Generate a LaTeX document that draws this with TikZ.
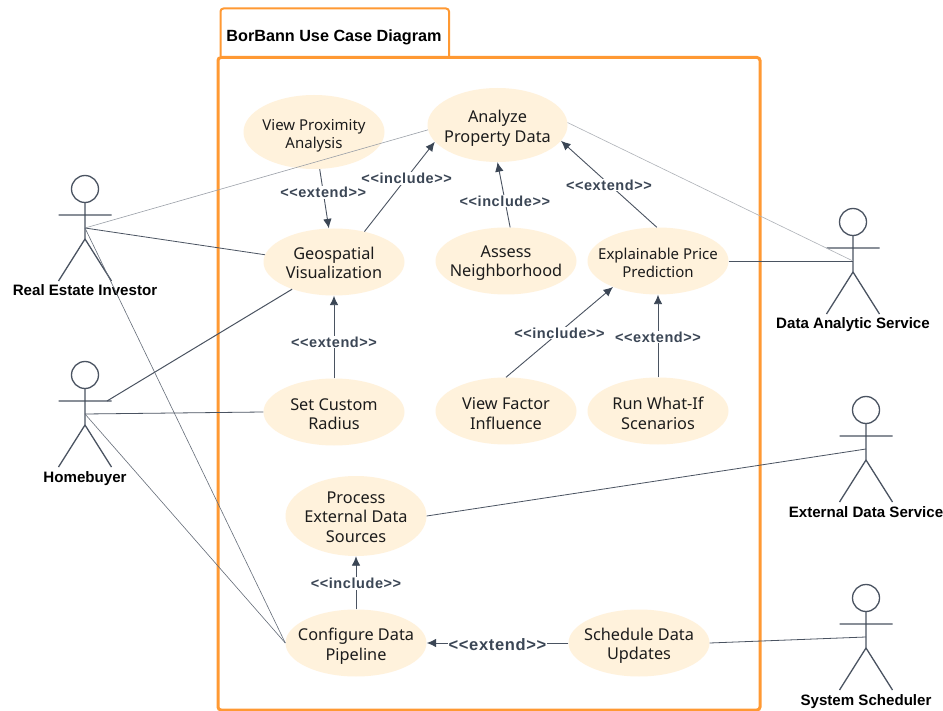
\documentclass[tikz,border=0pt]{standalone}
\usepackage{fontspec}
\setmainfont{Noto Sans}
\newfontfamily\labelfont{Liberation Sans}
\newfontfamily\stereofont[LetterSpace=4]{Liberation Sans}
\usetikzlibrary{shapes.geometric,arrows.meta}
\definecolor{frameC}{HTML}{FF9933}
\definecolor{ucC}{HTML}{FFF2DC}
\definecolor{lineC}{HTML}{4A5361}
\definecolor{tipC}{HTML}{3B4655}
\definecolor{txtC}{HTML}{1C1C1C}
\newcommand{\dn}[2]{\raisebox{-#1pt}[\height][\depth]{#2}}
\tikzset{
  uc/.style={ellipse,fill=ucC,inner ysep=0pt,inner xsep=-25pt,minimum width=141pt,minimum height=#1,align=center,font=\fontsize{16.3}{19.5}\selectfont,text=txtC},
  uc/.default=67pt,
  small/.style={font=\fontsize{15}{18}\selectfont},
  assoc/.style={draw=lineC,line width=0.8pt},
  faint/.style={draw=lineC!55,line width=0.6pt},
  rel/.style={draw=lineC,line width=0.9pt,-{Latex[length=9.5pt,width=8.5pt,color=tipC]}},
  stereo/.style={fill=white,inner sep=1pt,yshift=-1pt,font=\stereofont\bfseries\fontsize{14.5}{16}\selectfont,text=tipC},
  actorname/.style={anchor=base,font=\labelfont\bfseries\fontsize{15.1}{17}\selectfont,text=black},
  limb/.style={draw=lineC,line width=1.3pt},
  frameline/.style={draw=frameC,rounded corners=3pt}
}
\newcommand{\actor}[3]{%
  \node[circle,draw=lineC,line width=1.3pt,fill=white,minimum size=27pt,inner sep=0pt] (#1) at (#2,#3-39) {};
  \draw[limb] (#1.south) -- (#2,#3+11) (#2-26.5,#3-13) -- (#2+26.5,#3-13) (#2-26.5,#3+53) -- (#2,#3+11) -- (#2+26.5,#3+53);
  \coordinate (#1hub) at (#2,#3);
}
\begin{document}
\begin{tikzpicture}[x=1pt,y=-1pt]
\useasboundingbox (0,0) rectangle (943,711);
\fill[white] (0,0) rectangle (943,711);
\draw[frameline,line width=2pt] (220.5,56) -- (220.5,8.5) -- (449,8.5) -- (449,56);
\draw[frameline,line width=3pt] (218,57.5) rectangle (760,710);
\node[font=\labelfont\bfseries\fontsize{16.2}{19}\selectfont,text=black] (title) at (334,37) {BorBann Use Case Diagram};

\node[uc=74pt,minimum width=140pt] (ana) at (497.5,125) {\dn{3.5}{Analyze}\\\dn{3.5}{Property Data}};
\node[uc=74pt,small] (prox) at (314,132) {\dn{3.5}{View Proximity}\\\dn{3.5}{Analysis}};
\node[uc] (geo) at (334,262) {\dn{1}{Geospatial}\\\dn{1}{Visualization}};
\node[uc] (assess) at (506,261) {\dn{2}{Assess}\\\dn{2}{Neighborhood}};
\node[uc,small] (expl) at (658,261) {\dn{2}{Explainable Price}\\\dn{2}{Prediction}};
\node[uc] (radius) at (334,412) {\dn{2}{Set Custom}\\\dn{2}{Radius}};
\node[uc] (factor) at (506,411) {\dn{2.5}{View Factor}\\\dn{2.5}{Influence}};
\node[uc] (whatif) at (658,411) {\dn{2.5}{Run What-If}\\\dn{2.5}{Scenarios}};
\node[uc=80pt] (proc) at (356,516) {\dn{1}{Process}\\\dn{1}{External Data}\\\dn{1}{Sources}};
\node[uc] (conf) at (356,643) {\dn{3}{Configure Data}\\\dn{3}{Pipeline}};
\node[uc] (sched) at (639,643) {\dn{3}{Schedule Data}\\\dn{3}{Updates}};

\actor{inv}{85}{228}
\actor{home}{85}{414}
\actor{das}{853}{261}
\actor{eds}{866}{449}
\actor{sch}{866}{637}
\node[actorname] (invl) at (85,295.5) {Real Estate Investor};
\node[actorname] (homel) at (85,482) {Homebuyer};
\node[actorname] (dasl) at (853,328.5) {Data Analytic Service};
\node[actorname] (edsl) at (866,517) {External Data Service};
\node[actorname] (schl) at (866,705) {System Scheduler};
\coordinate (homearm) at (107,401);

\draw[faint] (invhub) -- (ana.184);
\draw[assoc] (invhub) -- (geo.174);
\draw[faint,draw=lineC!85] (invhub) -- (conf.180);
\draw[assoc,line width=1pt] (homearm) -- (geo.213);
\draw[assoc] (homehub) -- (radius.180);
\draw[faint,draw=lineC!85] (homehub) -- (conf.180);
\draw[faint,draw=lineC!45] (ana.2) -- (dashub);
\draw[assoc] (expl.0) -- (dashub);
\draw[assoc] (proc.0) -- (edshub);
\draw[assoc] (sched.0) -- (schhub);

\draw[rel] (prox) -- (geo) node[stereo,pos=.38] (l1) {<<extend>>};
\draw[rel] (geo.45) -- (ana.195) node[stereo,pos=.6] (l2) {<<include>>};
\draw[rel] (assess.83) -- (ana.270) node[stereo,pos=.42] (l3) {<<include>>};
\draw[rel] (expl.92) -- (ana.-14) node[stereo,pos=.5] (l4) {<<extend>>};
\draw[rel] (factor.90) -- (expl.210) node[stereo,pos=.5] (l5) {<<include>>};
\draw[rel] (whatif) -- (expl) node[stereo,pos=.5] (l6) {<<extend>>};
\draw[rel] (radius) -- (geo) node[stereo,pos=.45] (l7) {<<extend>>};
\draw[rel] (conf) -- (proc) node[stereo,pos=.5] (l8) {<<include>>};
\draw[rel] (sched) -- (conf) node[stereo,pos=.5,yshift=-1pt,font=\stereofont\bfseries\fontsize{16.5}{18}\selectfont] (l9) {<<extend>>};
\end{tikzpicture}
\end{document}
